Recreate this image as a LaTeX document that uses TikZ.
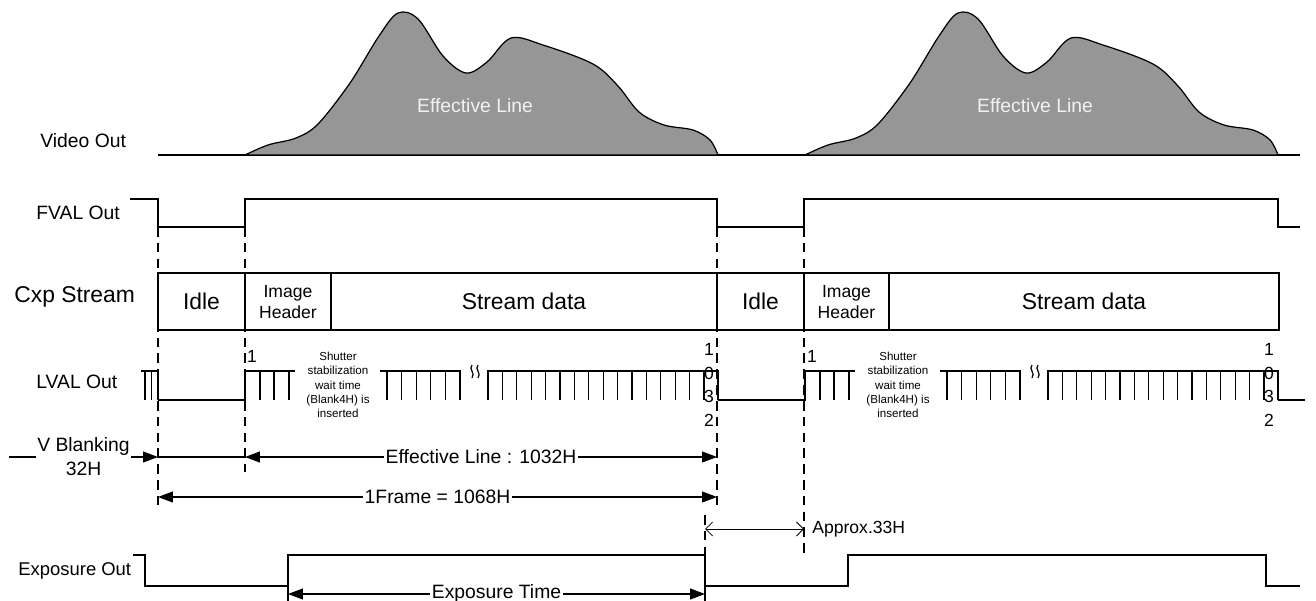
\documentclass[tikz,border=0pt]{standalone}
\usepackage{fontspec}
\setmainfont{Liberation Sans}
\usetikzlibrary{arrows.meta}
\definecolor{humpgray}{RGB}{150,150,150}
\definecolor{humptext}{RGB}{242,242,242}
\tikzset{
  signal/.style={line width=0.7pt},
  guide/.style={line width=0.6pt, dash pattern=on 5.5pt off 3.5pt},
  dimarrow/.style={line width=0.6pt, {Triangle[length=0.3cm,width=0.22cm]}-{Triangle[length=0.3cm,width=0.22cm]}},
  dimlabel/.style={fill=white, inner sep=1pt, font=\fontsize{11}{13.6}\selectfont},
  rowlabel/.style={anchor=west, inner sep=0pt, font=\fontsize{11}{13}\selectfont},
}
\begin{document}
\begin{tikzpicture}[x=0.02cm, y=-0.02cm]
\useasboundingbox (0,0) rectangle (1316,601);
\node[rowlabel] (video) at (40,141) {Video Out};
\node[rowlabel] (fval) at (36,213) {FVAL Out};
\node[rowlabel, font=\fontsize{13}{15}\selectfont] (cxp) at (14,297) {Cxp Stream};
\node[rowlabel] (lval) at (36,382) {LVAL Out};
\node[rowlabel, font=\fontsize{10.5}{12}\selectfont] (expo) at (18,571) {Exposure Out};

\draw[guide] (158,227) -- (158,511);
\draw[guide] (245,227) -- (245,472);
\draw[guide] (717,227) -- (717,507);
\draw[guide] (804,227) -- (804,557);
\draw[guide] (705,515) -- (705,555);

\draw[signal] (158,155) -- (1300,155);
\foreach \s in {0,560}{
  \filldraw[signal, fill=humpgray] plot[smooth, tension=0.55] coordinates {({245+\s},155) ({268+\s},145) ({296+\s},138) ({318+\s},124) ({350+\s},83) ({379+\s},36) ({398+\s},13) ({418+\s},19) ({443+\s},56) ({466+\s},73) ({487+\s},62) ({511+\s},38) ({543+\s},45) ({593+\s},64) ({618+\s},86) ({639+\s},112) ({664+\s},125) ({693+\s},130) ({710+\s},140) ({718+\s},155)} -- cycle;
  \node[text=humptext, font=\fontsize{11}{13}\selectfont] (eff\s) at ({475+\s},106) {Effective Line};
}

\draw[signal] (130,199) -- (158,199) -- (158,227) -- (245,227) -- (245,199) -- (717,199) -- (717,227) -- (804,227) -- (804,199) -- (1278,199) -- (1278,227) -- (1300,227);

\draw[signal] (158,273) rectangle (1279,330);
\foreach \x in {245,331,717,804,889}
  \draw[signal] (\x,273) -- (\x,330);
\node[font=\fontsize{13}{15}\selectfont] (idle1) at (201.5,301) {Idle};
\node[font=\fontsize{10}{12}\selectfont, align=center] (head1) at (288,302) {Image\\Header};
\node[font=\fontsize{13}{15}\selectfont] (data1) at (524,301) {Stream data};
\node[font=\fontsize{13}{15}\selectfont] (idle2) at (760.5,301) {Idle};
\node[font=\fontsize{10}{12}\selectfont, align=center] (head2) at (846.5,302) {Image\\Header};
\node[font=\fontsize{13}{15}\selectfont] (data2) at (1084,301) {Stream data};

\draw[signal] (141,371) -- (158,371) -- (158,400);
\foreach \t in {145,151.5}
  \draw[signal] (\t,371) -- ++(0,29);
\foreach \s in {0,560}{
  \draw[signal] ({158+\s},400) -- ({245+\s},400) -- ({245+\s},371) -- ({295+\s},371);
  \foreach \t in {260,274,289}
    \draw[signal] ({\t+\s},371) -- ++(0,29);
  \draw[signal] ({380+\s},371) -- ({461+\s},371);
  \foreach \k in {0,...,5}
    \draw[signal] ({387+14.6*\k+\s},371) -- ++(0,29);
  \draw[signal] ({488+\s},400) -- ({488+\s},371) -- ({718+\s},371) -- ({718+\s},400);
  \foreach \k in {1,...,15}
    \draw[signal] ({488+14.4*\k+\s},371) -- ++(0,29);
  \node[font=\fontsize{10}{12}\selectfont] (first\s) at ({252+\s},356) {1};
  \node[font=\fontsize{10}{13.6}\selectfont, align=center] (last\s) at ({709+\s},385) {1\\0\\3\\2};
  \node[font=\fontsize{6.6}{8.1}\selectfont, align=center] (wait\s) at ({338+\s},385) {Shutter\\stabilization\\wait time\\(Blank4H) is\\inserted};
  \foreach \d in {0,6}
    \draw[line width=0.7pt] ({472+\d+\s},365) .. controls ({468+\d+\s},369) and ({476+\d+\s},373) .. ({472+\d+\s},378);
}
\draw[signal] (1278,400) -- (1305,400);

\coordinate (vbl) at (9,457);
\coordinate (vbr) at (158,457);
\coordinate (efl) at (245,457);
\coordinate (efr) at (717,457);
\coordinate (frl) at (158,497);
\coordinate (frr) at (717,497);
\coordinate (apl) at (705,529);
\coordinate (apr) at (804,529);
\coordinate (exl) at (288,594);
\coordinate (exr) at (705,594);

\draw[line width=0.6pt, -{Triangle[length=0.3cm,width=0.22cm]}] (vbl) -- node[dimlabel, align=center] (vblank) {V Blanking\\32H} (vbr);
\draw[line width=0.6pt] (vbr) -- (efl);
\draw[dimarrow] (efl) -- node[dimlabel] (effline) {Effective Line : 1032H} (efr);
\draw[dimarrow] (frl) -- node[dimlabel] (frame) {1Frame = 1068H} (frr);
\draw[line width=0.5pt, {Straight Barb[length=1.4mm,width=2.8mm]}-{Straight Barb[length=1.4mm,width=2.8mm]}] (apl) -- (apr);
\node[rowlabel, font=\fontsize{10}{12}\selectfont] (approx) at (812,529) {Approx.33H};

\draw[signal] (133,555) -- (145,555) -- (145,586) -- (288,586) -- (288,555) -- (705,555) -- (705,586) -- (848,586) -- (848,555) -- (1266,555) -- (1266,586) -- (1300,586);
\draw[line width=0.6pt] (288,586) -- (288,601);
\draw[line width=0.6pt] (705,586) -- (705,601);
\draw[dimarrow] (exl) -- node[dimlabel] (exptime) {Exposure Time} (exr);
\end{tikzpicture}
\end{document}
